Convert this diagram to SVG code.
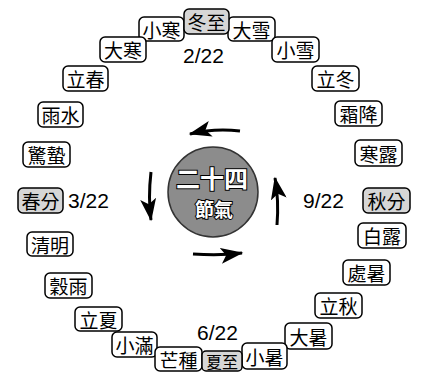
<svg xmlns="http://www.w3.org/2000/svg" width="422" height="372" viewBox="0 0 422 372">
<defs>
<style>
.b rect{fill:#fff;stroke:#000;stroke-width:1.5}
.b.m rect{fill:#d6d6d6}
.b text{font-family:"Noto Sans CJK TC","Noto Sans CJK SC",sans-serif;font-size:19px;fill:#000;text-anchor:middle;dominant-baseline:central}
.d{font-family:"Liberation Sans",Arial,sans-serif;font-size:21px;fill:#000}
.a{fill:none;stroke:#000;stroke-width:3;marker-end:url(#h)}
.c{font-family:"Noto Sans CJK TC","Noto Sans CJK SC",sans-serif;fill:#fff;stroke:#000;stroke-width:2;paint-order:stroke;text-anchor:middle;font-weight:bold}
</style>
<marker id="h" markerUnits="userSpaceOnUse" markerWidth="24" markerHeight="16" refX="16" refY="6" orient="auto" viewBox="0 0 18 12">
<path d="M17,6 L0,0 L4,6 L0,12 Z" fill="#000"/>
</marker>
</defs>
<g id="connectors">
<path class="a" d="M240,131 Q214,128 190,134"/>
<path class="a" d="M151,172 Q148,198 151,220"/>
<path class="a" d="M193,254 Q220,256 242,253"/>
<path class="a" d="M277,225 Q279,200 275,178"/>
</g>
<g id="center">
<circle cx="213" cy="192" r="45" fill="#8c8c8c" stroke="#333" stroke-width="1.5"/>
<text class="c" x="212" y="188" font-size="24">二十四</text>
<text class="c" x="214" y="217" font-size="19">節氣</text>
</g>
<g id="dates">
<text class="d" x="183" y="63">2/22</text>
<text class="d" x="68" y="208">3/22</text>
<text class="d" x="303" y="208">9/22</text>
<text class="d" x="197" y="340">6/22</text>
</g>
<g id="n-xiaohan" class="b"><rect x="139" y="17" width="45" height="24" rx="5"/><text x="161.5" y="29">小寒</text></g>
<g id="n-daxue" class="b"><rect x="228" y="17" width="47" height="24" rx="5"/><text x="251.5" y="29">大雪</text></g>
<g id="n-dongzhi" class="b m"><rect x="184" y="9" width="45" height="25" rx="5"/><text x="206.5" y="21.5">冬至</text></g>
<g id="n-dahan" class="b"><rect x="100" y="37" width="46" height="25" rx="5"/><text x="123" y="49.5">大寒</text></g>
<g id="n-xiaoxue" class="b"><rect x="272" y="37" width="47" height="25" rx="5"/><text x="295.5" y="49.5">小雪</text></g>
<g id="n-lichun" class="b"><rect x="63" y="66" width="45" height="25" rx="5"/><text x="85.5" y="78.5">立春</text></g>
<g id="n-lidong" class="b"><rect x="312" y="66" width="47" height="25" rx="5"/><text x="335.5" y="78.5">立冬</text></g>
<g id="n-yushui" class="b"><rect x="38" y="102" width="45" height="25" rx="5"/><text x="60.5" y="114.5">雨水</text></g>
<g id="n-shuangjiang" class="b"><rect x="335" y="101" width="47" height="25" rx="5"/><text x="358.5" y="113.5">霜降</text></g>
<g id="n-jingzhe" class="b"><rect x="23" y="142" width="47" height="25" rx="5"/><text x="46.5" y="154.5">驚蟄</text></g>
<g id="n-hanlu" class="b"><rect x="355" y="140" width="47" height="26" rx="5"/><text x="378.5" y="153">寒露</text></g>
<g id="n-chunfen" class="b m"><rect x="18" y="188" width="45" height="25" rx="5"/><text x="40.5" y="200.5">春分</text></g>
<g id="n-qiufen" class="b m"><rect x="363" y="188" width="47" height="25" rx="5"/><text x="386.5" y="200.5">秋分</text></g>
<g id="n-qingming" class="b"><rect x="27" y="232" width="46" height="24" rx="5"/><text x="50" y="244">清明</text></g>
<g id="n-bailu" class="b"><rect x="358" y="223" width="48" height="25" rx="5"/><text x="382" y="235.5">白露</text></g>
<g id="n-guyu" class="b"><rect x="45" y="273" width="47" height="25" rx="5"/><text x="68.5" y="285.5">穀雨</text></g>
<g id="n-chushu" class="b"><rect x="343" y="260" width="47" height="25" rx="5"/><text x="366.5" y="272.5">處暑</text></g>
<g id="n-lixia" class="b"><rect x="75" y="307" width="47" height="24" rx="5"/><text x="98.5" y="319">立夏</text></g>
<g id="n-liqiu" class="b"><rect x="315" y="293" width="47" height="25" rx="5"/><text x="338.5" y="305.5">立秋</text></g>
<g id="n-xiaoman" class="b"><rect x="112" y="332" width="45" height="25" rx="5"/><text x="134.5" y="344.5">小滿</text></g>
<g id="n-dashu" class="b"><rect x="285" y="323" width="47" height="26" rx="5"/><text x="308.5" y="336">大暑</text></g>
<g id="n-mangzhong" class="b"><rect x="155" y="347" width="47" height="24" rx="5"/><text x="178.5" y="359">芒種</text></g>
<g id="n-xiaoshu" class="b"><rect x="242" y="343" width="45" height="26" rx="5"/><text x="264.5" y="356">小暑</text></g>
<g id="n-xiazhi" class="b m"><rect x="202" y="351" width="40" height="20" rx="4"/><text x="222" y="360.5" style="font-size:16px">夏至</text></g>
</svg>
